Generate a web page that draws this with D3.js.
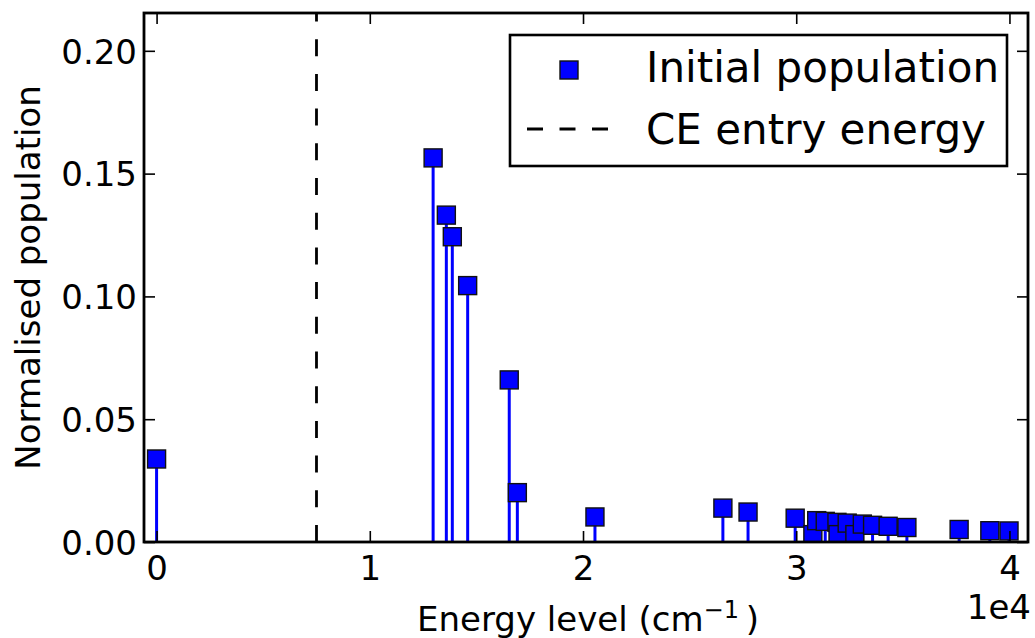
<!DOCTYPE html>
<html>
<head>
<meta charset="utf-8">
<script src="https://cdn.jsdelivr.net/npm/d3@7/dist/d3.min.js"></script>
<style>
  html, body { margin: 0; padding: 0; background: #ffffff; }
  svg { display: block; }
  text { font-family: "DejaVu Sans", sans-serif; fill: #000; }
</style>
</head>
<body>
<svg id="chart" width="1035" height="638"></svg>
<script>
// Energy levels (cm^-1) and their normalised initial populations
const energyLevels = [
  0, 12970, 13590, 13870, 14590, 16540, 16920, 20560, 26560, 27740,
  29950, 30780, 30960, 31360, 31910, 31960, 32390, 32750, 33100, 33580,
  34310, 35190, 37640, 39080, 39980
];
const populations = [
  0.0338, 0.1564, 0.1331, 0.1243, 0.1044, 0.0660, 0.0201, 0.0102, 0.0138, 0.0122,
  0.0097, 0.0030, 0.0087, 0.0084, 0.0080, 0.0030, 0.0077, 0.0030, 0.0073, 0.0068,
  0.0064, 0.0059, 0.0051, 0.0046, 0.0045
];
const ceEntryEnergy = [7500];
const xTickValues = [0, 10000, 20000, 30000, 40000];
const yTickValues = [0, 0.05, 0.10, 0.15, 0.20];
const legendLabels = ["Initial population", "CE entry energy"];

const W = 1035, H = 638;
const plot = { left: 144, right: 1028, top: 13, bottom: 542 };
const blue = "#0000ff";
const markerSize = 18;

const svg = d3.select("#chart");
svg.append("rect").attr("width", W).attr("height", H).attr("fill", "#fff");

const x = d3.scaleLinear().domain([-590, 40870]).range([plot.left, plot.right]);
const y = d3.scaleLinear().domain([0, 0.2154]).range([plot.bottom, plot.top]);

const data = energyLevels.map((e, i) => ({ e, p: populations[i] }));

// clip region for the data
svg.append("defs").append("clipPath").attr("id", "plotClip")
  .append("rect")
  .attr("x", plot.left).attr("y", plot.top)
  .attr("width", plot.right - plot.left).attr("height", plot.bottom - plot.top);

const dataLayer = svg.append("g").attr("clip-path", "url(#plotClip)");

// stems
dataLayer.selectAll("line.stem").data(data).join("line")
  .attr("class", "stem")
  .attr("x1", d => x(d.e)).attr("x2", d => x(d.e))
  .attr("y1", y(0)).attr("y2", d => y(d.p))
  .attr("stroke", blue).attr("stroke-width", 3);

// square markers
dataLayer.selectAll("rect.marker").data(data).join("rect")
  .attr("class", "marker")
  .attr("x", d => x(d.e) - markerSize / 2)
  .attr("y", d => y(d.p) - markerSize / 2)
  .attr("width", markerSize).attr("height", markerSize)
  .attr("fill", blue).attr("stroke", "#111").attr("stroke-width", 1.4);

// CE entry energy marker line
dataLayer.selectAll("line.ce").data(ceEntryEnergy).join("line")
  .attr("class", "ce")
  .attr("x1", d => x(d)).attr("x2", d => x(d))
  .attr("y1", plot.bottom).attr("y2", plot.top)
  .attr("stroke", "#000").attr("stroke-width", 2.8)
  .attr("stroke-dasharray", "17,17.7");

// axes: ticks pointing inward on all four sides
const fs = 34;
const fmtY = d3.format(".2f");
const fmtX = d => String(Math.round(d / 1e4));

const yLeft = svg.append("g").attr("transform", `translate(${plot.left},0)`)
  .call(d3.axisLeft(y).tickValues(yTickValues).tickSizeInner(-11).tickSizeOuter(0)
    .tickPadding(7).tickFormat(fmtY));
const yRight = svg.append("g").attr("transform", `translate(${plot.right},0)`)
  .call(d3.axisRight(y).tickValues(yTickValues).tickSizeInner(-11).tickSizeOuter(0)
    .tickFormat(""));
const xBottom = svg.append("g").attr("transform", `translate(0,${plot.bottom})`)
  .call(d3.axisBottom(x).tickValues(xTickValues).tickSizeInner(-11).tickSizeOuter(0)
    .tickPadding(13).tickFormat(fmtX));
const xTop = svg.append("g").attr("transform", `translate(0,${plot.top})`)
  .call(d3.axisTop(x).tickValues(xTickValues).tickSizeInner(-11).tickSizeOuter(0)
    .tickFormat(""));

[yLeft, yRight, xBottom, xTop].forEach(g => {
  g.select(".domain").remove();
  g.selectAll(".tick line").attr("stroke", "#000").attr("stroke-width", 1.6);
  g.selectAll(".tick text").attr("font-size", fs).attr("font-family", "DejaVu Sans");
});
yLeft.selectAll(".tick text").attr("dy", "0.36em");
xBottom.selectAll(".tick text").attr("dy", "0.73em");

// frame
svg.append("rect")
  .attr("x", plot.left).attr("y", plot.top)
  .attr("width", plot.right - plot.left).attr("height", plot.bottom - plot.top)
  .attr("fill", "none").attr("stroke", "#000").attr("stroke-width", 2.8);

// offset text for the x axis
svg.append("text").attr("x", 1031).attr("y", 619)
  .attr("text-anchor", "end").attr("font-size", fs).text("1e4");

// axis labels
const xl = svg.append("text").attr("x", 588).attr("y", 631)
  .attr("text-anchor", "middle").attr("font-size", fs);
xl.append("tspan").text("Energy level (cm");
xl.append("tspan").attr("font-size", 24).attr("dy", -13).text("\u22121");
xl.append("tspan").attr("dy", 13).text("\u2009)");

svg.append("text")
  .attr("transform", `translate(40,${(plot.top + plot.bottom) / 2}) rotate(-90)`)
  .attr("text-anchor", "middle").attr("font-size", fs)
  .text("Normalised population");

// legend
const lg = svg.append("g");
lg.append("rect").attr("x", 510).attr("y", 35).attr("width", 497).attr("height", 131)
  .attr("fill", "#fff").attr("stroke", "#000").attr("stroke-width", 2.6);
lg.append("rect").attr("x", 569 - 9).attr("y", 70 - 9)
  .attr("width", 18).attr("height", 18)
  .attr("fill", blue).attr("stroke", "#111").attr("stroke-width", 1.4);
lg.append("line").attr("x1", 527).attr("x2", 608).attr("y1", 129).attr("y2", 129)
  .attr("stroke", "#000").attr("stroke-width", 2.8).attr("stroke-dasharray", "16,16.5");
lg.selectAll("text.lab").data(legendLabels).join("text")
  .attr("class", "lab")
  .attr("x", 646).attr("y", (d, i) => [82, 144][i])
  .attr("font-size", 42).text(d => d);
</script>
</body>
</html>
